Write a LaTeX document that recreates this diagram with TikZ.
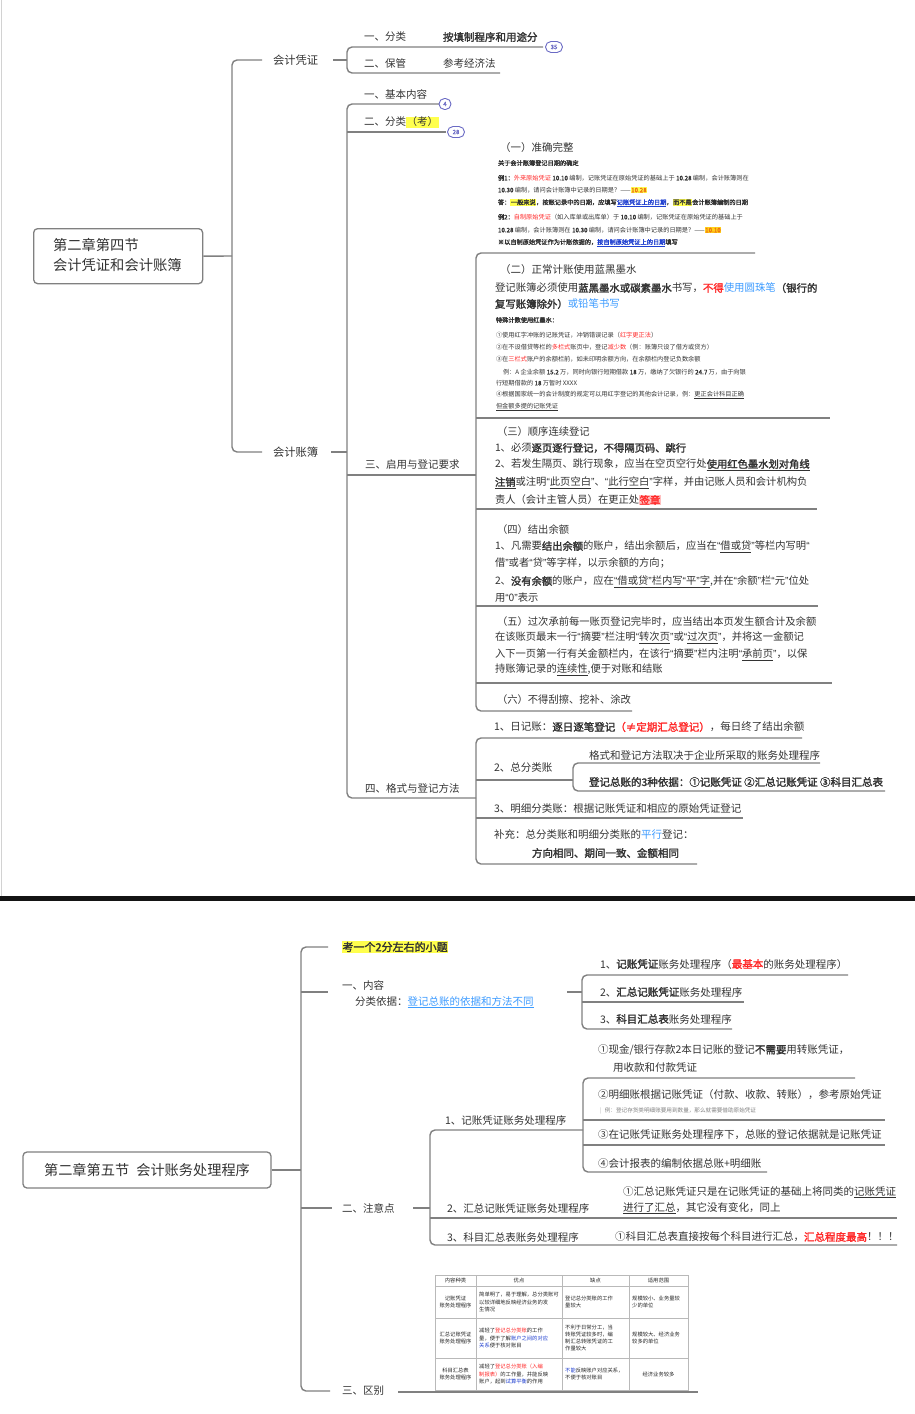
\documentclass[tikz,border=0pt]{standalone}
\usepackage{fontspec}
\setmainfont{Noto Sans CJK SC}
\newfontfamily\xbfont{Noto Sans CJK SC}[FakeBold=2]
\newfontfamily\qfont{Liberation Sans}
\definecolor{lc}{HTML}{808080}
\definecolor{tc}{HTML}{333333}
\definecolor{bc}{HTML}{6A6AC4}
\definecolor{rd}{HTML}{FF2A2A}
\definecolor{bl}{HTML}{3C9BFF}
\definecolor{db}{HTML}{1F3FD0}
\definecolor{hy}{HTML}{FFFF4D}
\definecolor{ho}{HTML}{FFD21A}
\definecolor{hr}{HTML}{FFC0C0}
\definecolor{og}{HTML}{F07010}
\newcommand\xfs[1]{\fontsize{#1}{#1}\selectfont}
\newcommand\xb[1]{{\xbfont #1}}
\newcommand\xr[1]{\textcolor{rd}{#1}}
\newcommand\xrb[1]{\textcolor{rd}{\xbfont #1}}
\newcommand\xl[1]{\textcolor{bl}{#1}}
\newcommand\xd[1]{\textcolor{db}{#1}}
\newcommand\xh[2][hy]{{\setlength{\fboxsep}{0.5pt}\colorbox{#1}{#2}}}
\newcommand\xo{{\qfont “}}
\newcommand\xc{{\qfont ”}}
\tikzset{
  tx/.style={anchor=west, inner sep=0pt, outer sep=0pt, text=tc, font=\xfs{10.5}},
  tm/.style={tx, font=\xfs{10.3}},
  ts/.style={tx, font=\xfs{6.2}},
  conn/.style={draw=lc, line width=1.4pt, rounded corners=5pt},
  rootbox/.style={draw=lc, line width=1.3pt, rounded corners=4pt, fill=white, inner sep=0pt, text=tc},
  badge/.style={draw=bc, line width=0.9pt, rounded corners=5.5pt, minimum height=11pt, minimum width=17pt, inner sep=0pt, fill=white, text=bc, font=\xfs{6}\xbfont},
  gridl/.style={draw=gray!55, line width=0.5pt},
  cell/.style={inner sep=0pt, text=black!85, font=\fontsize{5.3}{7.2}\selectfont, align=left},
}
\begin{document}
\begin{tikzpicture}[x=1pt,y=-1pt]
\useasboundingbox (0,0) rectangle (915,1414);
\fill[white] (0,0) rectangle (915,1414);
\draw[gray!35, line width=1pt] (1,0) -- (1,896);
\fill[black!92] (0,896) rectangle (915,901);

% ================= TOP HALF =================
\node[rootbox, anchor=north west, minimum width=169pt, minimum height=55pt] (r1) at (33,228) {};
\node[tx, font=\fontsize{14.3}{20}\selectfont, align=left] (r1t) at (53,255) {第二章第四节\\会计凭证和会计账簿};

\node[tx, font=\xfs{11.3}] (kpz) at (273,60) {会计凭证};
\node[tx, font=\xfs{11.3}] (kzb) at (273,452) {会计账簿};
\coordinate (T0) at (232,256);
\coordinate (Tt) at (232,60); \coordinate (Tb) at (232,452);
\coordinate (Ta) at (262,60); \coordinate (Tc) at (262,452);
\draw[conn] (r1.east) -- (T0);
\draw[conn] (Ta) -- (Tt) -- (Tb) -- (Tc);

% 会计凭证 children
\node[tx] (fl) at (364,37) {一、分类};
\node[tx] (fl2) at (443,37) {\xb{按填制程序和用途分}};
\node[tx] (bg) at (364,63) {二、保管};
\node[tx] (bg2) at (443,63) {参考经济法};
\coordinate (A1r) at (543,47); \coordinate (A1l) at (347,47);
\coordinate (A2l) at (347,73); \coordinate (A2r) at (500,73);
\draw[conn] (A1r) -- (A1l) -- (A2l) -- (A2r);
\node[badge] (b35) at (554,47) {35};
\coordinate (S1a) at (333,60); \coordinate (S1b) at (347,60);
\draw[conn] (S1a) -- (S1b);

% 会计账簿 children
\node[tx] (jb) at (364,94) {一、基本内容};
\node[tx] (fl3) at (364,122) {二、分类\xh{（考）}};
\node[tx] (qy) at (365,465) {三、启用与登记要求};
\node[tx] (gs) at (365,788) {四、格式与登记方法};
\coordinate (B1r) at (439,104); \coordinate (B1l) at (347,104);
\coordinate (B4l) at (347,798); \coordinate (B4r) at (476,798);
\draw[conn] (B1r) -- (B1l) -- (B4l) -- (B4r);
\coordinate (B2l) at (347,132); \coordinate (B2r) at (446,132);
\coordinate (B3l) at (347,475); \coordinate (B3r) at (476,475);
\draw[conn] (B2l) -- (B2r);
\draw[conn] (B3l) -- (B3r);
\node[badge, minimum width=12pt] (b4) at (445,104) {4};
\node[badge] (b28) at (456,132) {28};
\coordinate (S2a) at (331,452); \coordinate (S2b) at (347,452);
\draw[conn] (S2a) -- (S2b);

% 三 bracket
\coordinate (C1r) at (755,253); \coordinate (C1l) at (476,253);
\coordinate (C6l) at (476,711); \coordinate (C6r) at (632,711);
\draw[conn] (C1r) -- (C1l) -- (C6l) -- (C6r);
\coordinate (C2l) at (476,418); \coordinate (C2r) at (830,418);
\coordinate (C3l) at (476,509); \coordinate (C3r) at (817,509);
\coordinate (C4l) at (476,606); \coordinate (C4r) at (818,606);
\coordinate (C5l) at (476,683); \coordinate (C5r) at (832,683);
\draw[conn] (C2l) -- (C2r);
\draw[conn] (C3l) -- (C3r);
\draw[conn] (C4l) -- (C4r);
\draw[conn] (C5l) -- (C5r);

% (一)
\node[tx] (s1t) at (500,148) {（一）准确完整};
\node[ts] (s1a) at (498,163) {\xb{关于会计账簿登记日期的确定}};
\node[ts] (s1b) at (498,178) {\xb{例1：}\xr{外来原始凭证} \xb{10.10} 编制，记账凭证在原始凭证的基础上于 \xb{10.28} 编制，会计账簿则在};
\node[ts] (s1c) at (498,190) {\xb{10.30} 编制，请问会计账簿中记录的日期是？——\xh{\textcolor{og}{\xb{10.28}}}};
\node[ts] (s1d) at (498,203) {\xb{答：\xh{一般来说}，按账记录中的日期，应填写\textcolor{db}{\underline{记账凭证上的日期}}，\xh{而不是}会计账簿编制的日期}};
\node[ts] (s1e) at (498,217) {\xb{例2：}\xr{自制原始凭证}（如入库单或出库单）于 \xb{10.10} 编制，记账凭证在原始凭证的基础上于};
\node[ts] (s1f) at (498,230) {\xb{10.28} 编制，会计账簿则在 \xb{10.30} 编制，请问会计账簿中记录的日期是？——\xh[ho]{\textcolor{og}{\xb{10.10}}}};
\node[ts] (s1g) at (498,243) {\xb{※以自制原始凭证作为计账依据的，\textcolor{db}{\underline{按自制原始凭证上的日期}}填写}};

% (二)
\node[tx] (s2t) at (500,270) {（二）正常计账使用蓝黑墨水};
\node[tx, font=\xfs{10.4}] (s2a) at (495,288) {登记账簿必须使用\xb{蓝黑墨水或碳素墨水}书写，\xrb{不得}\xl{使用圆珠笔}\xb{（银行的}};
\node[tx, font=\xfs{10.4}] (s2b) at (495,304) {\xb{复写账簿除外）}\xl{或铅笔书写}};
\node[ts] (s2c) at (496,320) {\xb{特殊计数使用红墨水：}};
\node[ts] (s2d) at (496,335) {①使用红字冲账的记账凭证，冲销错误记录（\xr{红字更正法}）};
\node[ts] (s2e) at (496,347) {②在不设借贷等栏的\xr{多栏式}账页中，登记\xr{减少数}（例：账簿只设了借方或贷方）};
\node[ts] (s2f) at (496,359) {③在\xr{三栏式}账户的余额栏前，如未印明余额方向，在余额栏内登记负数余额};
\node[ts] (s2g) at (503,372) {例：A 企业余额 \xb{15.2} 万，同时向银行短期借款 \xb{18} 万，缴纳了欠银行的 \xb{24.7} 万，由于向银};
\node[ts] (s2h) at (496,383) {行短期借款的 \xb{18} 万暂时 XXXX};
\node[ts] (s2i) at (496,395) {④根据国家统一的会计制度的规定可以用红字登记的其他会计记录，例：\underline{更正会计科目正确}};
\node[ts] (s2j) at (496,407) {\underline{但金额多提的记账凭证}};

% (三)
\node[tm] (s3t) at (497,432) {（三）顺序连续登记};
\node[tm] (s3a) at (495,448) {1、必须\xb{逐页逐行登记，不得隔页码、跳行}};
\node[tm] (s3b) at (495,465) {2、若发生隔页、跳行现象，应当在空页空行处\xb{\underline{使用红色墨水划对角线}}};
\node[tm] (s3c) at (495,483) {\xb{\underline{注销}}或注明\xo\underline{此页空白}\xc、\xo\underline{此行空白}\xc 字样，并由记账人员和会计机构负};
\node[tm] (s3d) at (495,500) {责人（会计主管人员）在更正处\xh[hr]{\xrb{签章}}};

% (四)
\node[tm] (s4t) at (497,530) {（四）结出余额};
\node[tm] (s4a) at (495,547) {1、凡需要\xb{结出余额}的账户，结出余额后，应当在\xo\underline{借或贷}\xc 等栏内写明\xo};
\node[tm] (s4b) at (495,563) {借\xc 或者\xo 贷\xc 等字样，以示余额的方向；};
\node[tm] (s4c) at (495,582) {2、\xb{没有余额}的账户，应在\underline{\xo 借或贷\xc 栏内写\xo 平\xc 字},并在\xo 余额\xc 栏\xo 元\xc 位处};
\node[tm] (s4d) at (495,598) {用\xo 0\xc 表示};

% (五)(六)
\node[tm] (s5t) at (497,622) {（五）过次承前每一账页登记完毕时，应当结出本页发生额合计及余额};
\node[tm] (s5a) at (495,638) {在该账页最末一行\xo 摘要\xc 栏注明\xo\underline{转次页}\xc 或\xo\underline{过次页}\xc，并将这一金额记};
\node[tm] (s5b) at (495,655) {入下一页第一行有关金额栏内，在该行\xo 摘要\xc 栏内注明\xo\underline{承前页}\xc，以保};
\node[tm] (s5c) at (495,670) {持账簿记录的\underline{连续性},便于对账和结账};
\node[tm] (s6t) at (497,700) {（六）不得刮擦、挖补、涂改};

% 四 children
\coordinate (D1r) at (802,738); \coordinate (D1l) at (476,738);
\coordinate (D4l) at (476,864); \coordinate (D4r) at (697,864);
\draw[conn] (D1r) -- (D1l) -- (D4l) -- (D4r);
\coordinate (D2l) at (476,780); \coordinate (D2r) at (573,780);
\coordinate (D3l) at (476,818); \coordinate (D3r) at (743,818);
\draw[conn] (D2l) -- (D2r);
\draw[conn] (D3l) -- (D3r);
\coordinate (E1r) at (820,763); \coordinate (E1l) at (573,763);
\coordinate (E2l) at (573,791); \coordinate (E2r) at (885,791);
\draw[conn] (E1r) -- (E1l) -- (E2l) -- (E2r);
\node[tx] (d1) at (494,727) {1、日记账：\xb{逐日逐笔登记}\xrb{（≠定期汇总登记）}，每日终了结出余额};
\node[tx] (d2) at (494,768) {2、总分类账};
\node[tx] (d2a) at (589,755) {格式和登记方法取决于企业所采取的账务处理程序};
\node[tx] (d2b) at (589,782) {\xb{登记总账的3种依据：①记账凭证 ②汇总记账凭证 ③科目汇总表}};
\node[tx] (d3) at (494,808) {3、明细分类账：根据记账凭证和相应的原始凭证登记};
\node[tx] (d4) at (494,835) {补充：总分类账和明细分类账的\xl{平行}登记：};
\node[tx] (d5) at (532,853) {\xb{方向相同、期间一致、金额相同}};

% ================= BOTTOM HALF =================
\node[rootbox, minimum width=248pt, minimum height=36pt, font=\xfs{14.2}] (r2) at (147,1170) {第二章第五节\hspace{0.5em}会计账务处理程序};
\coordinate (U0) at (301,1170);
\coordinate (Ut) at (301,947); \coordinate (Ub) at (301,1391);
\coordinate (Ua) at (328,947); \coordinate (Uc) at (330,1391);
\draw[conn] (r2.east) -- (U0);
\draw[conn] (Ua) -- (Ut) -- (Ub) -- (Uc);
\coordinate (Um1) at (301,992); \coordinate (Um1r) at (328,992);
\coordinate (Um2) at (301,1208); \coordinate (Um2r) at (332,1208);
\draw[conn] (Um1) -- (Um1r);
\draw[conn] (Um2) -- (Um2r);

\node[tx, font=\xfs{11}] (k1) at (342,947) {\xh{\xb{考一个2分左右的小题}}};
\node[tx] (nr) at (342,985) {一、内容};
\node[tx] (nr2) at (355,1002) {分类依据：\textcolor{bl}{\underline{登记总账的依据和方法不同}}};
\coordinate (S3a) at (567,992); \coordinate (S3b) at (582,992);
\draw[conn] (S3a) -- (S3b);
\coordinate (F1r) at (848,975); \coordinate (F1l) at (582,975);
\coordinate (F3l) at (582,1029); \coordinate (F3r) at (732,1029);
\draw[conn] (F1r) -- (F1l) -- (F3l) -- (F3r);
\coordinate (F2l) at (582,1002); \coordinate (F2r) at (744,1002);
\draw[conn] (F2l) -- (F2r);
\node[tx] (c1) at (600,964) {1、\xb{记账凭证}账务处理程序（\xrb{最基本}的账务处理程序）};
\node[tx] (c2) at (600,992) {2、\xb{汇总记账凭证}账务处理程序};
\node[tx] (c3) at (600,1019) {3、\xb{科目汇总表}账务处理程序};

\node[tx] (zy) at (342,1208) {二、注意点};
\coordinate (S4a) at (413,1208); \coordinate (S4b) at (430,1208);
\draw[conn] (S4a) -- (S4b);
\coordinate (G1r) at (583,1130); \coordinate (G1l) at (430,1130);
\coordinate (G3l) at (430,1245); \coordinate (G3r) at (897,1245);
\draw[conn] (G1r) -- (G1l) -- (G3l) -- (G3r);
\coordinate (G2l) at (430,1218); \coordinate (G2r) at (897,1218);
\draw[conn] (G2l) -- (G2r);
\node[tx] (z1) at (445,1120) {1、记账凭证账务处理程序};
\coordinate (H1r) at (855,1078); \coordinate (H1l) at (583,1078);
\coordinate (H4l) at (583,1172); \coordinate (H4r) at (767,1172);
\draw[conn] (H1r) -- (H1l) -- (H4l) -- (H4r);
\coordinate (H2l) at (583,1120); \coordinate (H2r) at (885,1120);
\coordinate (H3l) at (583,1145); \coordinate (H3r) at (885,1145);
\draw[conn] (H2l) -- (H2r);
\draw[conn] (H3l) -- (H3r);
\node[tx] (z1a) at (598,1050) {①现金/银行存款2本日记账的登记\xb{不需要}用转账凭证，};
\node[tx] (z1a2) at (613,1068) {用收款和付款凭证};
\node[tx] (z1b) at (598,1095) {②明细账根据记账凭证（付款、收款、转账），参考原始凭证};
\node[ts, text=gray, font=\xfs{5.6}] (z1b2) at (600,1111) {\textcolor{gray!60}{|}\hspace{0.6em}例：登记存货类明细账要用到数量，那么就需要借助原始凭证};
\node[tx] (z1c) at (598,1135) {③在记账凭证账务处理程序下，总账的登记依据就是记账凭证};
\node[tx] (z1d) at (598,1163) {④会计报表的编制依据总账+明细账};
\node[tx] (z2) at (447,1208) {2、汇总记账凭证账务处理程序};
\node[tx] (z2a) at (623,1192) {①汇总记账凭证只是在记账凭证的基础上将同类的\underline{记账凭证}};
\node[tx] (z2b) at (623,1208) {\underline{进行了汇总}，其它没有变化，同上};
\node[tx] (z3) at (447,1237) {3、科目汇总表账务处理程序};
\node[tx] (z3a) at (615,1237) {①科目汇总表直接按每个科目进行汇总，\xrb{汇总程度最高}！！！};

\node[tx] (qb) at (342,1391) {三、区别};
\coordinate (S5a) at (398,1392); \coordinate (S5b) at (698,1392);
\draw[conn] (S5a) -- (S5b);

% table
\draw[gridl] (435,1275) rectangle (688,1390);
\foreach \xx in {476,562,629} \draw[gridl] (\xx,1275) -- (\xx,1390);
\foreach \yy in {1286,1318,1358} \draw[gridl] (435,\yy) -- (688,\yy);
\node[cell, align=center] (h1) at (455.5,1280.5) {内容种类};
\node[cell, align=center] (h2) at (519,1280.5) {优点};
\node[cell, align=center] (h3) at (595.5,1280.5) {缺点};
\node[cell, align=center] (h4) at (658.5,1280.5) {适用范围};
\node[cell, align=center] (a1) at (455.5,1302) {记账凭证\\账务处理程序};
\node[cell, anchor=west] (a2) at (479,1302) {简单明了，易于理解，总分类账可\\以较详细地反映经济业务的发\\生情况};
\node[cell, anchor=west] (a3) at (565,1302) {登记总分类账的工作\\量较大};
\node[cell, anchor=west] (a4) at (632,1302) {规模较小、业务量较\\少的单位};
\node[cell, align=center] (b1) at (455.5,1338) {汇总记账凭证\\账务处理程序};
\node[cell, anchor=west] (b2) at (479,1338) {减轻了\xr{登记总分类账}的工作\\量，便于了解\xd{账户之间的对应}\\\xd{关系}便于核对账目};
\node[cell, anchor=west] (b3) at (565,1338) {不利于日常分工，当\\转账凭证较多时，编\\制汇总转账凭证的工\\作量较大};
\node[cell, anchor=west] (b4c) at (632,1338) {规模较大、经济业务\\较多的单位};
\node[cell, align=center] (e1) at (455.5,1374) {科目汇总表\\账务处理程序};
\node[cell, anchor=west] (e2) at (479,1374) {减轻了\xr{登记总分类账（入编}\\\xr{制报表）}的工作量，并能反映\\账户，起到\xd{试算平衡}的作用};
\node[cell, anchor=west] (e3) at (565,1374) {\xd{不能}反映账户对应关系，\\不便于核对账目};
\node[cell, align=center] (e4) at (658.5,1374) {经济业务较多};
\end{tikzpicture}
\end{document}
